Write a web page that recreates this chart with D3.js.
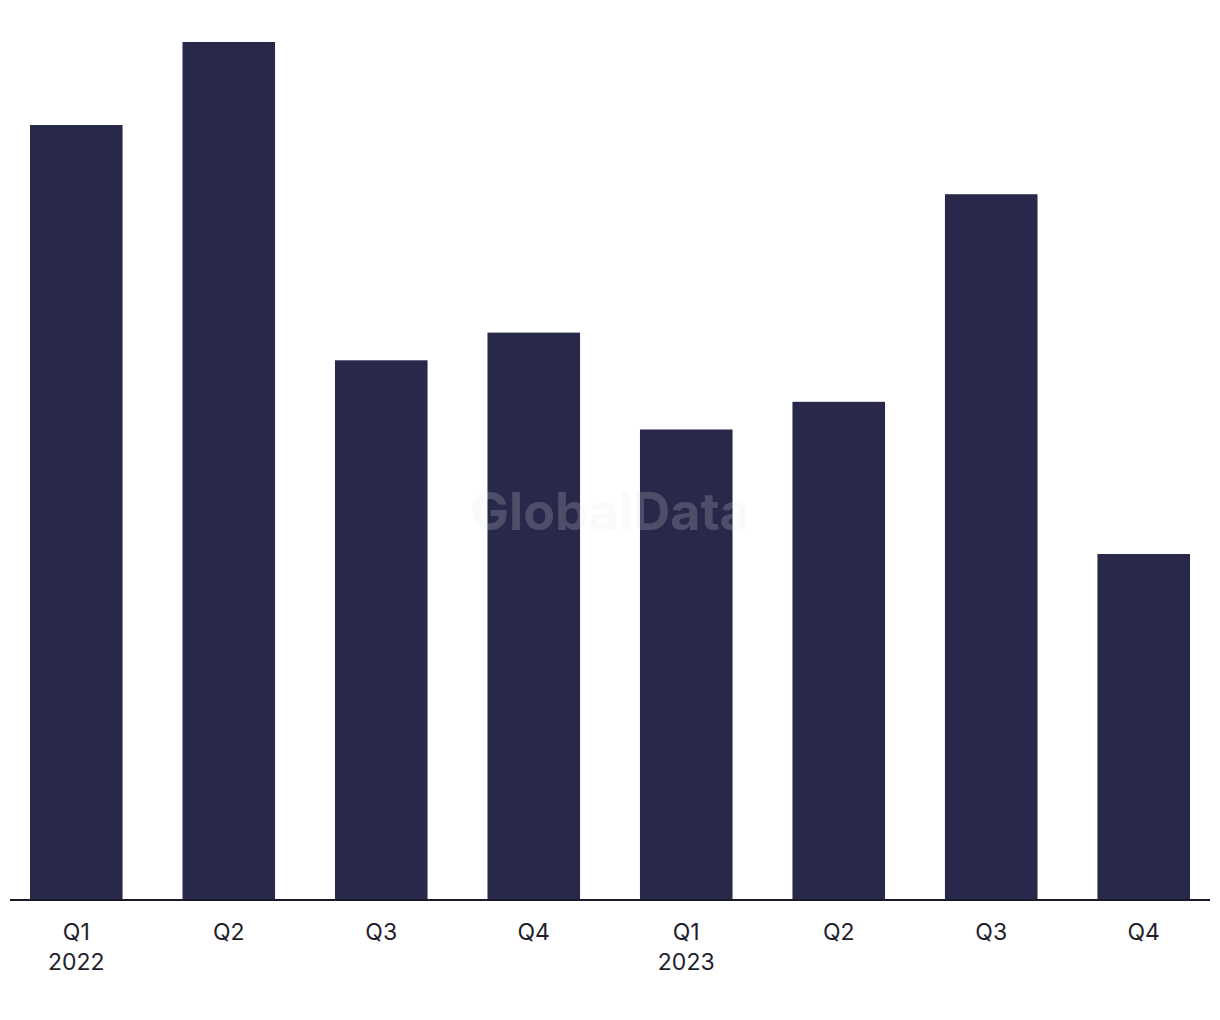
<!DOCTYPE html>
<html>
<head>
<meta charset="utf-8">
<script src="https://cdn.jsdelivr.net/npm/d3@7"></script>
<style>
  body { margin: 0; background: #fff; }
  text { font-family: Inter, "Liberation Sans", Arial, sans-serif; }
</style>
</head>
<body>
<script>
var width = 1220;
var height = 1020;

var quarters = ["Q1", "Q2", "Q3", "Q4", "Q1", "Q2", "Q3", "Q4"];
var years = ["2022", "", "", "", "2023", "", "", ""];
var values = [56, 62, 39, 41, 34, 36, 51, 25];

var svg = d3.select("body").append("svg")
    .attr("width", width)
    .attr("height", height);

var x = d3.scaleBand()
    .domain(d3.range(values.length))
    .range([0, width])
    .paddingInner(0.393)
    .paddingOuter(0.1967);

var y = d3.scaleLinear()
    .domain([0, 62])
    .range([900, 42]);

svg.append("g")
  .selectAll("rect")
  .data(values)
  .enter().append("rect")
    .attr("x", function(d, i) { return x(i); })
    .attr("y", function(d) { return y(d); })
    .attr("width", x.bandwidth())
    .attr("height", function(d) { return y(0) - y(d); })
    .attr("fill", "#28284b");

// baseline
svg.append("line")
    .attr("x1", 10).attr("x2", 1210)
    .attr("y1", y(0)).attr("y2", y(0))
    .attr("stroke", "#1a1a2a")
    .attr("stroke-width", 2);

svg.append("g")
  .selectAll("text")
  .data(quarters)
  .enter().append("text")
    .attr("x", function(d, i) { return x(i) + x.bandwidth() / 2; })
    .attr("y", 940)
    .attr("text-anchor", "middle")
    .attr("font-size", 23)
    .attr("fill", "#1e1e2c")
    .text(function(d) { return d; });

svg.append("g")
  .selectAll("text")
  .data(years)
  .enter().append("text")
    .attr("x", function(d, i) { return x(i) + x.bandwidth() / 2; })
    .attr("y", 970)
    .attr("text-anchor", "middle")
    .attr("font-size", 23)
    .attr("fill", "#1e1e2c")
    .text(function(d) { return d; });

// watermark
svg.append("text")
    .attr("x", 610)
    .attr("y", 530)
    .attr("text-anchor", "middle")
    .attr("font-size", 52)
    .attr("font-weight", "bold")
    .attr("fill", "#e4e4ec")
    .attr("fill-opacity", 0.2)
    .text("GlobalData");
</script>
</body>
</html>
